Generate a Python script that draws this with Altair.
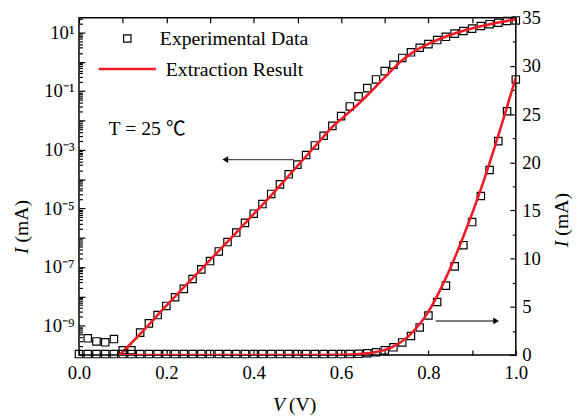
import altair as alt
import pandas as pd

FONT = "Liberation Serif"
RED = "#ee1c25"
GRAY = "#505050"

# ---------------- data ----------------
# log-scale experimental data (left axis)
v_log_pts = [0.02, 0.04, 0.06, 0.08, 0.10, 0.12, 0.14, 0.16, 0.18, 0.20,
             0.22, 0.24, 0.26, 0.28, 0.30, 0.32, 0.34, 0.36, 0.38, 0.40,
             0.42, 0.44, 0.46, 0.48, 0.50, 0.52, 0.54, 0.56, 0.58, 0.60,
             0.62, 0.64, 0.66, 0.68, 0.70, 0.72, 0.74, 0.76, 0.78, 0.80,
             0.82, 0.84, 0.86, 0.88, 0.90, 0.92, 0.94, 0.96, 0.98, 1.00]
i_log_pts = [3.7e-10, 2.9e-10, 2.7e-10, 3.5e-10, 1.45e-10, 1.45e-10, 5.8e-10, 1.2e-9, 2.3e-9, 4.7e-9,
             9.3e-9, 1.8e-8, 3.9e-8, 8.3e-8, 1.6e-7, 3.4e-7, 7.1e-7, 1.5e-6, 3.2e-6, 6.6e-6,
             1.4e-5, 3.1e-5, 6.6e-5, 1.45e-4, 3.1e-4, 6.6e-4, 1.4e-3, 3.0e-3, 6.5e-3, 1.4e-2,
             3.0e-2, 6.6e-2, 0.126, 0.25, 0.48, 0.79, 1.35, 2.1, 3.0, 4.0,
             5.5, 7.1, 9.1, 11.2, 13.5, 16.6, 19.1, 21.4, 24.5, 25.7]

# log-scale extraction result
v_log_fit = [0.09, 0.14, 0.20, 0.28, 0.36, 0.44, 0.52, 0.56, 0.58, 0.60, 0.62, 0.64,
             0.66, 0.68, 0.70, 0.72, 0.74, 0.76, 0.78, 0.80, 0.84, 0.88, 0.92, 0.96, 1.00]
i_log_fit = [9.0e-11, 5.2e-10, 4.8e-9, 8.5e-8, 1.5e-6, 2.8e-5, 6.0e-4, 2.8e-3, 6.0e-3, 1.1e-2, 2.0e-2, 3.7e-2,
             7.2e-2, 0.145, 0.295, 0.59, 1.12, 1.9, 2.9, 4.1, 7.3, 11.5, 16.3, 21.8, 28.0]

# linear-scale experimental data (right axis)
v_lin_pts = [0.00, 0.02, 0.04, 0.06, 0.08, 0.10, 0.12, 0.14, 0.16, 0.18, 0.20,
             0.22, 0.24, 0.26, 0.28, 0.30, 0.32, 0.34, 0.36, 0.38, 0.40,
             0.42, 0.44, 0.46, 0.48, 0.50, 0.52, 0.54, 0.56, 0.58, 0.60,
             0.62, 0.64, 0.66, 0.68, 0.70, 0.72, 0.74, 0.76, 0.78, 0.80,
             0.82, 0.84, 0.86, 0.88, 0.90, 0.92, 0.94, 0.96, 0.98, 1.00]
i_lin_pts = [0.1, 0.1, 0.1, 0.1, 0.1, 0.1, 0.1, 0.1, 0.1, 0.1, 0.1,
             0.1, 0.1, 0.1, 0.1, 0.1, 0.1, 0.1, 0.1, 0.1, 0.1,
             0.1, 0.1, 0.1, 0.1, 0.1, 0.1, 0.1, 0.1, 0.1, 0.1,
             0.1, 0.12, 0.18, 0.28, 0.48, 0.80, 1.30, 1.97, 2.86, 4.1,
             5.5, 7.2, 9.2, 11.4, 13.8, 16.5, 19.2, 22.2, 25.3, 28.6]

# linear-scale extraction result
v_lin_fit = [0.09, 0.50, 0.60, 0.64, 0.68, 0.72, 0.76, 0.80, 0.84, 0.88, 0.92, 0.96, 1.00]
i_lin_fit = [0.0, 0.0, 0.03, 0.1, 0.3, 0.9, 2.2, 4.5, 8.0, 12.3, 17.2, 22.8, 28.8]

# arrows (start V, end V, current)
arrow_left = {"v0": [0.492], "v1": [0.335], "i": [4.6e-4]}
arrow_right = {"v0": [0.8165], "v1": [0.955], "i": [3.54]}

legend_labels = ["Experimental Data", "Extraction Result"]
annotation = "T = 25 \u2103"

# axis tick values / labels
x_tick_vals = [0.0, 0.1, 0.2, 0.3, 0.4, 0.5, 0.6, 0.7, 0.8, 0.9, 1.0]
x_label_vals = [0.0, 0.2, 0.4, 0.6, 0.8, 1.0]
log_label_exps = [1, -1, -3, -5, -7, -9]
log_label_text = ["10\u00b9", "10\u207b\u00b9", "10\u207b\u00b3", "10\u207b\u2075", "10\u207b\u2077", "10\u207b\u2079"]
log_label_vals = [10.0, 1e-1, 1e-3, 1e-5, 1e-7, 1e-9]
log_major_vals = [1e-10, 1e-9, 1e-8, 1e-7, 1e-6, 1e-5, 1e-4, 1e-3, 1e-2, 1e-1, 1.0, 10.0]
log_minor_vals = [m * d for d in log_major_vals for m in range(2, 10) if m * d < 31.6]
lin_major_vals = [0, 5, 10, 15, 20, 25, 30, 35]
lin_minor_vals = [2.5, 7.5, 12.5, 17.5, 22.5, 27.5, 32.5]

W, H = 443, 342

# ---------------- scales ----------------
xs = alt.Scale(domain=[0, 1], nice=False, zero=False, padding=0)
ylog = alt.Scale(type="log", domain=[1e-10, 31.62], nice=False, padding=0)
ylin = alt.Scale(domain=[0, 35], nice=False, zero=True, padding=0)

label_expr = " : ".join(
    f"round(log(datum.value)/LN10) == {e} ? '{t}'" for e, t in zip(log_label_exps, log_label_text)
) + " : ''"

common_lbl = dict(labelFont=FONT, labelFontSize=19, labelColor="black", grid=False, title=None,
                  domain=False, labelFlush=False, labelOverlap=False, tickSize=0)
common_tick = dict(labels=False, domain=False, grid=False, title=None, tickColor="black", tickWidth=1.2)

x_label_axis = alt.Axis(orient="bottom", values=x_label_vals, format=".1f", ticks=False, labelPadding=9, **common_lbl)
x_tick_bottom = alt.Axis(orient="top", offset=-H, values=x_tick_vals, tickSize=5, **common_tick)
x_tick_top = alt.Axis(orient="bottom", offset=-H, values=x_tick_vals, tickSize=5, **common_tick)

ylog_label_axis = alt.Axis(orient="left", values=log_label_vals, labelExpr=label_expr, ticks=False, labelPadding=5, **common_lbl)
ylog_major = alt.Axis(orient="right", offset=-W, values=log_major_vals, tickSize=6, **common_tick)
ylog_minor = alt.Axis(orient="right", offset=-W, values=log_minor_vals, tickSize=3.5, **common_tick)

ylin_label_axis = alt.Axis(orient="right", values=lin_major_vals, format="d", ticks=False, labelPadding=6, **common_lbl)
ylin_major = alt.Axis(orient="left", offset=-W, values=lin_major_vals, tickSize=6, **common_tick)
ylin_minor = alt.Axis(orient="left", offset=-W, values=lin_minor_vals, tickSize=3.5, **common_tick)

df_log_pts = pd.DataFrame({"V": v_log_pts, "I": i_log_pts})
df_log_fit = pd.DataFrame({"V": v_log_fit, "I": i_log_fit})
df_lin_pts = pd.DataFrame({"V": v_lin_pts, "I": i_lin_pts})
df_lin_fit = pd.DataFrame({"V": v_lin_fit, "I": i_lin_fit})

sq = dict(shape="square", size=56, filled=False, color="black", strokeWidth=1.2, opacity=1)

# ---------------- log group ----------------
log_pts = alt.Chart(df_log_pts).mark_point(**sq).encode(
    x=alt.X("V:Q", scale=xs, axis=x_label_axis),
    y=alt.Y("I:Q", scale=ylog, axis=ylog_label_axis),
)
log_fit = alt.Chart(df_log_fit).mark_line(color=RED, strokeWidth=2.6, interpolate="monotone", clip=True).encode(
    x=alt.X("V:Q", scale=xs, axis=x_tick_bottom),
    y=alt.Y("I:Q", scale=ylog, axis=ylog_major),
)
log_ghost = alt.Chart(df_log_pts).mark_point(opacity=0).encode(
    x=alt.X("V:Q", scale=xs, axis=x_tick_top),
    y=alt.Y("I:Q", scale=ylog, axis=ylog_minor),
)
arr1_shaft = alt.Chart(pd.DataFrame(arrow_left)).mark_rule(color=GRAY, strokeWidth=1.5).encode(
    x=alt.X("v0:Q", scale=xs, axis=None), x2="v1:Q",
    y=alt.Y("i:Q", scale=ylog, axis=None),
)
arr1_head = alt.Chart(pd.DataFrame(arrow_left)).mark_point(shape="triangle-left", filled=True, color="black", size=45, opacity=1).encode(
    x=alt.X("v1:Q", scale=xs, axis=None),
    y=alt.Y("i:Q", scale=ylog, axis=None),
)
log_group = alt.layer(log_pts, log_ghost, arr1_shaft, arr1_head, log_fit).resolve_axis(x="independent", y="independent")

# ---------------- linear group ----------------
lin_pts = alt.Chart(df_lin_pts).mark_point(**sq).encode(
    x=alt.X("V:Q", scale=xs, axis=None),
    y=alt.Y("I:Q", scale=ylin, axis=ylin_label_axis),
)
lin_fit = alt.Chart(df_lin_fit).mark_line(color=RED, strokeWidth=2.6, interpolate="monotone", clip=True).encode(
    x=alt.X("V:Q", scale=xs, axis=None),
    y=alt.Y("I:Q", scale=ylin, axis=ylin_major),
)
lin_ghost = alt.Chart(df_lin_pts).mark_point(opacity=0).encode(
    x=alt.X("V:Q", scale=xs, axis=None),
    y=alt.Y("I:Q", scale=ylin, axis=ylin_minor),
)
arr2_shaft = alt.Chart(pd.DataFrame(arrow_right)).mark_rule(color=GRAY, strokeWidth=1.5).encode(
    x=alt.X("v0:Q", scale=xs, axis=None), x2="v1:Q",
    y=alt.Y("i:Q", scale=ylin, axis=None),
)
arr2_head = alt.Chart(pd.DataFrame(arrow_right)).mark_point(shape="triangle-right", filled=True, color="black", size=45, opacity=1).encode(
    x=alt.X("v1:Q", scale=xs, axis=None),
    y=alt.Y("i:Q", scale=ylin, axis=None),
)
lin_group = alt.layer(lin_pts, lin_ghost, arr2_shaft, arr2_head, lin_fit).resolve_axis(x="independent", y="independent")

# ---------------- legend, annotation, titles ----------------
one = pd.DataFrame({"a": [0]})
txt = dict(font=FONT, fontSize=20, color="black", baseline="middle")

leg_sq = alt.Chart(one).mark_point(**sq).encode(x=alt.value(49), y=alt.value(21))
leg_t1 = alt.Chart(one).mark_text(align="left", text=legend_labels[0], **txt).encode(x=alt.value(82), y=alt.value(22))
leg_ln = alt.Chart(one).mark_rule(color=RED, strokeWidth=2.6).encode(x=alt.value(20), x2=alt.value(78), y=alt.value(52))
leg_t2 = alt.Chart(one).mark_text(align="left", text=legend_labels[1], **txt).encode(x=alt.value(88), y=alt.value(53))
ann = alt.Chart(one).mark_text(align="left", text=annotation, font=f"{FONT}, Noto Sans CJK SC", fontSize=20, color="black", baseline="middle").encode(x=alt.value(30), y=alt.value(113))

ttl = dict(font=FONT, fontSize=20, color="black", baseline="middle")
yl_i = alt.Chart(one).mark_text(text="I", fontStyle="italic", angle=270, align="right", **ttl).encode(x=alt.value(-58), y=alt.value(233))
yl_u = alt.Chart(one).mark_text(text="(mA)", angle=270, align="left", **ttl).encode(x=alt.value(-58), y=alt.value(228))
yr_i = alt.Chart(one).mark_text(text="I", fontStyle="italic", angle=270, align="right", **ttl).encode(x=alt.value(490), y=alt.value(226))
yr_u = alt.Chart(one).mark_text(text="(mA)", angle=270, align="left", **ttl).encode(x=alt.value(490), y=alt.value(221))
xl_v = alt.Chart(one).mark_text(text="V", fontStyle="italic", align="right", **ttl).encode(x=alt.value(209), y=alt.value(393))
xl_u = alt.Chart(one).mark_text(text="(V)", align="left", **ttl).encode(x=alt.value(213), y=alt.value(393))

chart = alt.layer(
    log_group, lin_group,
    leg_sq, leg_t1, leg_ln, leg_t2, ann,
    yl_i, yl_u, yr_i, yr_u, xl_v, xl_u,
).resolve_scale(y="independent").resolve_axis(x="independent", y="independent").properties(
    width=W, height=H,
    autosize=alt.AutoSizeParams(type="none"),
    padding={"left": 72, "top": 7, "right": 57, "bottom": 62},
).configure_view(stroke="black", strokeWidth=1.5).configure_axis(
    grid=False, labelFont=FONT, labelFontSize=19, labelColor="black", labelFlush=False
).configure_text(font=FONT)

chart.save("out.html", embed_options={"renderer": "svg", "actions": False})
